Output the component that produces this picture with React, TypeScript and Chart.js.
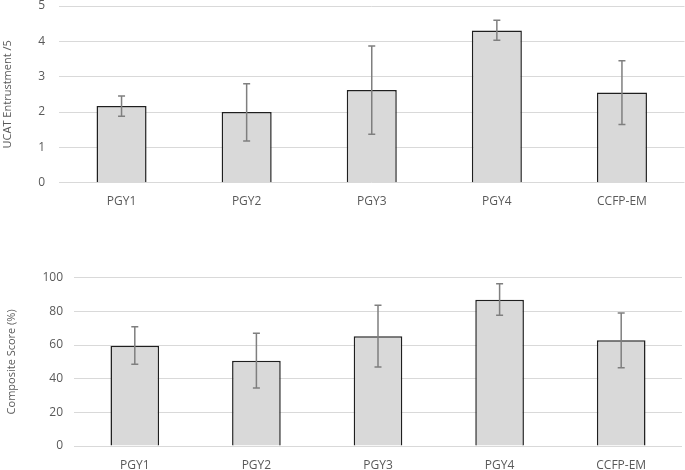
import React, { useEffect, useRef } from "react";
import { Chart, registerables } from "chart.js";

Chart.register(...registerables);

const categories = ["PGY1", "PGY2", "PGY3", "PGY4", "CCFP-EM"];

const ucatMeans = [2.17, 2.0, 2.62, 4.31, 2.55];
const ucatUpper = [2.45, 2.8, 3.87, 4.6, 3.45];
const ucatLower = [1.88, 1.18, 1.37, 4.03, 1.65];

const compositeMeans = [59.6, 50.7, 65.2, 86.9, 62.8];
const compositeUpper = [70.9, 67.0, 83.6, 96.4, 79.0];
const compositeLower = [48.5, 34.5, 46.9, 77.7, 46.5];

const ucatTicks = [0, 1, 2, 3, 4, 5];
const compositeTicks = [0, 20, 40, 60, 80, 100];

const FONT = "'Open Sans', sans-serif";
const TEXT = "#595959";
const GRID = "#d9d9d9";

const errorBarPlugin = {
  id: "errorBars",
  afterDatasetsDraw(chart: any, _args: any, opts: any) {
    const { ctx } = chart;
    const meta = chart.getDatasetMeta(0);
    const y = chart.scales.y;
    const upper: number[] = opts.upper || [];
    const lower: number[] = opts.lower || [];
    ctx.save();
    ctx.strokeStyle = "#7f7f7f";
    ctx.lineWidth = 1.5;
    meta.data.forEach((el: any, i: number) => {
      const x = el.x;
      const yt = y.getPixelForValue(upper[i]);
      const yb = y.getPixelForValue(lower[i]);
      ctx.beginPath();
      ctx.moveTo(x, yt);
      ctx.lineTo(x, yb);
      ctx.moveTo(x - 3.5, yt);
      ctx.lineTo(x + 3.5, yt);
      ctx.moveTo(x - 3.5, yb);
      ctx.lineTo(x + 3.5, yb);
      ctx.stroke();
    });
    ctx.restore();
  },
};

function makeConfig(opts: {
  means: number[];
  upper: number[];
  lower: number[];
  ticks: number[];
  title: string;
  yWidth: number;
  xHeight: number;
  padTop: number;
  padRight: number;
  titlePad: number;
  tickPad: number;
}) {
  const max = opts.ticks[opts.ticks.length - 1];
  const step = opts.ticks[1] - opts.ticks[0];
  return {
    type: "bar" as const,
    data: {
      labels: categories,
      datasets: [
        {
          data: opts.means,
          backgroundColor: "#d9d9d9",
          borderColor: "#1f1f1f",
          borderWidth: 1.5,
          barPercentage: 0.4,
          categoryPercentage: 1,
        },
      ],
    },
    options: {
      animation: false,
      responsive: false,
      maintainAspectRatio: false,
      layout: { padding: { top: opts.padTop, right: opts.padRight, left: 0, bottom: 0 } },
      plugins: {
        legend: { display: false },
        tooltip: { enabled: false },
        errorBars: { upper: opts.upper, lower: opts.lower },
      },
      scales: {
        x: {
          grid: { display: false },
          border: { display: false },
          ticks: { color: TEXT, font: { family: FONT, size: 12 }, padding: 4 },
          afterFit: (s: any) => {
            s.height = opts.xHeight;
          },
        },
        y: {
          min: 0,
          max,
          ticks: {
            stepSize: step,
            color: TEXT,
            font: { family: FONT, size: 12 },
            padding: opts.tickPad,
          },
          grid: { color: GRID, lineWidth: 1, drawTicks: false },
          border: { display: false },
          title: {
            display: true,
            text: opts.title,
            color: TEXT,
            font: { family: FONT, size: 11 },
            padding: { top: opts.titlePad, bottom: 0 },
          },
          afterFit: (s: any) => {
            s.width = opts.yWidth;
          },
        },
      },
    },
    plugins: [errorBarPlugin],
  };
}

function BarChart(props: { width: number; height: number; config: any }) {
  const ref = useRef<HTMLCanvasElement | null>(null);
  useEffect(() => {
    if (!ref.current) return;
    const chart = new Chart(ref.current, props.config);
    return () => chart.destroy();
  }, []);
  return (
    <canvas
      ref={ref}
      width={props.width}
      height={props.height}
      style={{ display: "block", width: props.width, height: props.height }}
    />
  );
}

export default function App() {
  const topConfig = makeConfig({
    means: ucatMeans,
    upper: ucatUpper,
    lower: ucatLower,
    ticks: ucatTicks,
    title: "UCAT Entrustment /5",
    yWidth: 59,
    xHeight: 242 - 212.7,
    padTop: 36,
    padRight: 0.5,
    titlePad: 1,
    tickPad: 14,
  });
  const bottomConfig = makeConfig({
    means: compositeMeans,
    upper: compositeUpper,
    lower: compositeLower,
    ticks: compositeTicks,
    title: "Composite Score (%)",
    yWidth: 74,
    xHeight: 230 - 206,
    padTop: 37.7,
    padRight: 3,
    titlePad: 5,
    tickPad: 11,
  });
  return (
    <div style={{ position: "fixed", left: 0, top: 0, width: 685, height: 470, background: "#fff", overflow: "hidden" }}>
      <div style={{ position: "absolute", left: 0, top: -30 }}>
        <BarChart width={685} height={242} config={topConfig} />
      </div>
      <div style={{ position: "absolute", left: 0, top: 240 }}>
        <BarChart width={685} height={230} config={bottomConfig} />
      </div>
    </div>
  );
}
